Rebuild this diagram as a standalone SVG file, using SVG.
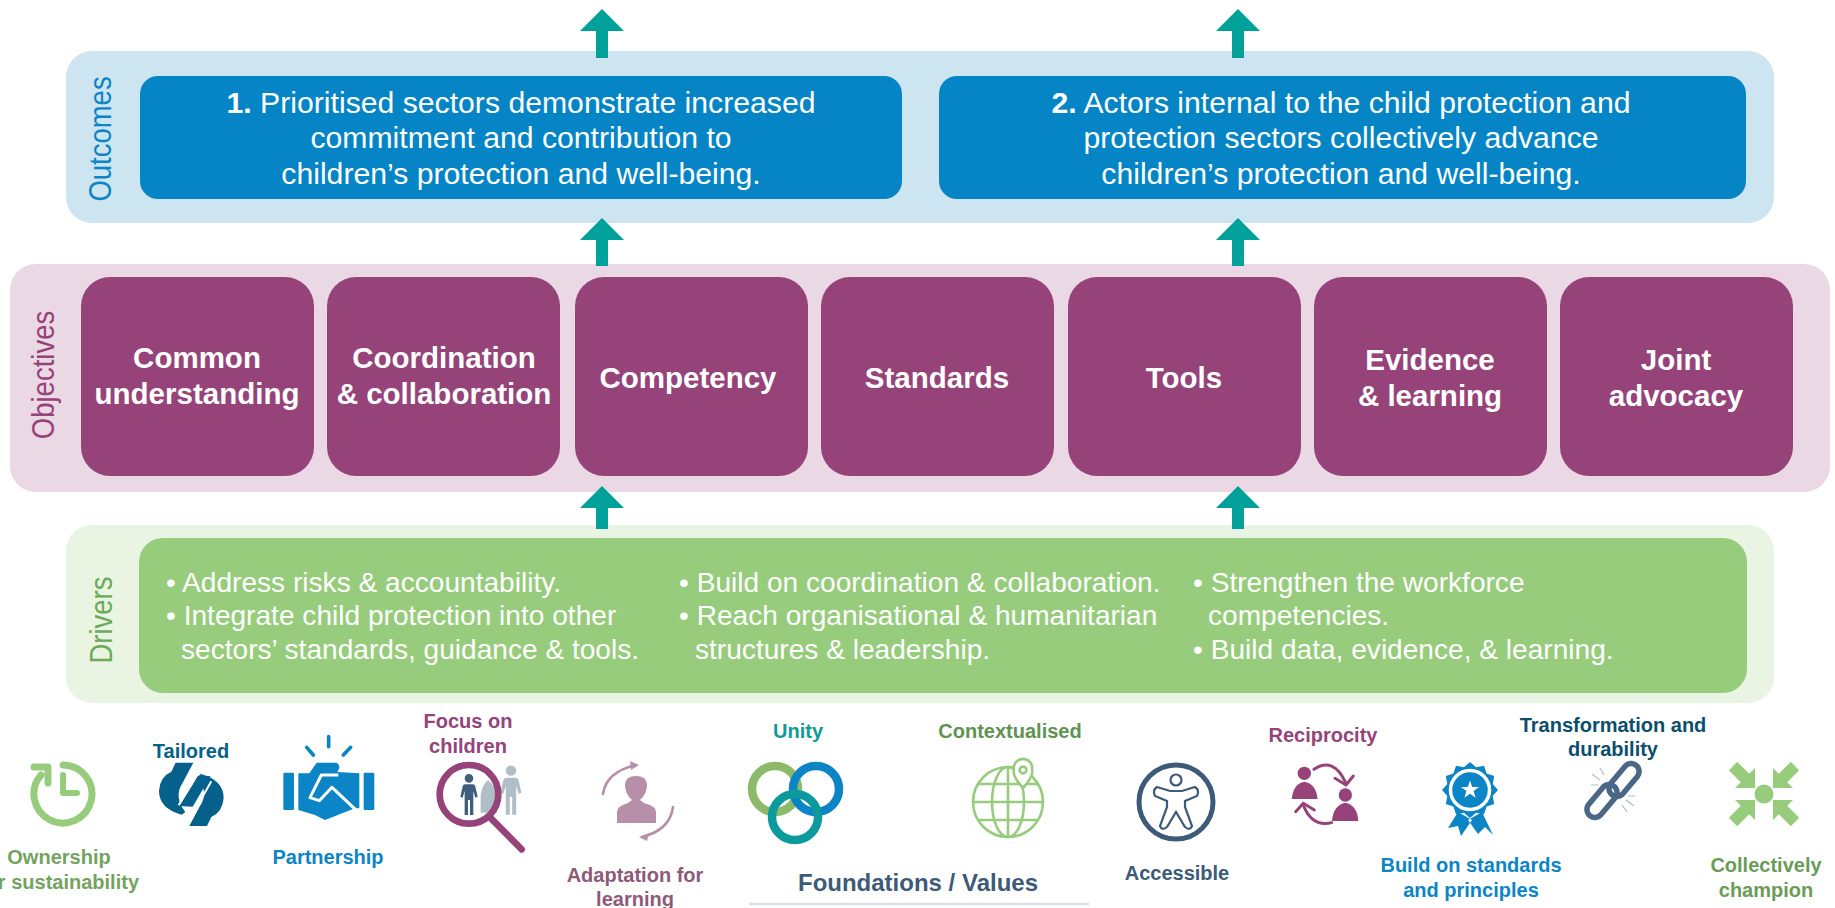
<svg xmlns="http://www.w3.org/2000/svg" xmlns:xlink="http://www.w3.org/1999/xlink" width="1835" height="908" viewBox="0 0 1835 908">
<style>
text{font-family:"Liberation Sans",Arial,sans-serif}
.band-label{font-size:27.5px;text-anchor:middle}
.out{font-size:30.2px;fill:#fff;text-anchor:middle}
.obj{font-size:29.5px;font-weight:700;fill:#fff;text-anchor:middle}
.drv{font-size:28.1px;fill:#fff}
.lab{font-size:20px;font-weight:700;text-anchor:middle}
.o-box{fill:#96437a}
.flow{stroke:#00a19a;stroke-width:12;fill:none;marker-end:url(#head)}
</style>
<defs>
<marker id="head" markerUnits="userSpaceOnUse" markerWidth="44" markerHeight="23" refX="0" refY="22" orient="0" viewBox="-22 0 44 23"><path d="M0 0L22 22H-22Z" fill="#00a19a"/></marker>
<path id="person" d="M-12 18H12Q18 18 20 28L26 55L19 58L13 38V110H3V65H-3V110H-13V38L-19 58L-26 55L-20 28Q-18 18-12 18ZM13 0A13 13 0 1 1-13 0A13 13 0 1 1 13 0Z"/>
<polygon id="inward" points="-26.8,-32.2 -14.8,-20.2 -9,-26 -9,-6 -29,-6 -23.2,-11.8 -35.2,-23.8" fill="#96cc7c"/>
</defs>
<rect width="1835" height="908" fill="#fff"/>

<g id="outcomes">
<rect x="66" y="51" width="1708" height="172" rx="26" fill="#cde5f1"/>
<text class="band-label" fill="#0b85c5" transform="translate(111 139) rotate(-90) scale(1 1.14)">Outcomes</text>
</g>
<g id="outcome-1">
<rect x="140" y="76" width="762" height="123" rx="18" fill="#0585c6"/>
<text class="out" x="521" y="113"><tspan font-weight="700">1.</tspan> Prioritised sectors demonstrate increased</text>
<text class="out" x="521" y="148">commitment and contribution to</text>
<text class="out" x="521" y="184">children’s protection and well-being.</text>
</g>
<g id="outcome-2">
<rect x="939" y="76" width="807" height="123" rx="18" fill="#0585c6"/>
<text class="out" x="1341" y="113"><tspan font-weight="700">2.</tspan> Actors internal to the child protection and</text>
<text class="out" x="1341" y="148">protection sectors collectively advance</text>
<text class="out" x="1341" y="184">children’s protection and well-being.</text>
</g>

<g id="objectives">
<rect x="10" y="264" width="1820" height="228" rx="26" fill="#ead8e5"/>
<text class="band-label" fill="#96437a" transform="translate(54 375) rotate(-90) scale(1 1.14)">Objectives</text>
</g>
<g id="obj-common"><rect class="o-box" x="81" y="277" width="233" height="199" rx="29"/><text class="obj" x="197" y="368">Common</text><text class="obj" x="197" y="404">understanding</text></g>
<g id="obj-coordination"><rect class="o-box" x="327" y="277" width="233" height="199" rx="29"/><text class="obj" x="444" y="368">Coordination</text><text class="obj" x="444" y="404">&amp; collaboration</text></g>
<g id="obj-competency"><rect class="o-box" x="575" y="277" width="233" height="199" rx="29"/><text class="obj" x="688" y="388">Competency</text></g>
<g id="obj-standards"><rect class="o-box" x="821" y="277" width="233" height="199" rx="29"/><text class="obj" x="937" y="388">Standards</text></g>
<g id="obj-tools"><rect class="o-box" x="1068" y="277" width="233" height="199" rx="29"/><text class="obj" x="1184" y="388">Tools</text></g>
<g id="obj-evidence"><rect class="o-box" x="1314" y="277" width="233" height="199" rx="29"/><text class="obj" x="1430" y="370">Evidence</text><text class="obj" x="1430" y="406">&amp; learning</text></g>
<g id="obj-advocacy"><rect class="o-box" x="1560" y="277" width="233" height="199" rx="29"/><text class="obj" x="1676" y="370">Joint</text><text class="obj" x="1676" y="406">advocacy</text></g>

<g id="drivers">
<rect x="66" y="525" width="1708" height="178" rx="26" fill="#e9f4e3"/>
<text class="band-label" fill="#6cab58" transform="translate(112 620) rotate(-90) scale(1 1.14)">Drivers</text>
<rect x="139" y="538" width="1608" height="155" rx="24" fill="#96cc7c"/>
<text class="drv" x="166" y="592">• Address risks &amp; accountability.</text>
<text class="drv" x="166" y="625">• Integrate child protection into other</text>
<text class="drv" x="181" y="659">sectors’ standards, guidance &amp; tools.</text>
<text class="drv" x="679" y="592">• Build on coordination &amp; collaboration.</text>
<text class="drv" x="679" y="625">• Reach organisational &amp; humanitarian</text>
<text class="drv" x="695" y="659">structures &amp; leadership.</text>
<text class="drv" x="1193" y="592">• Strengthen the workforce</text>
<text class="drv" x="1208" y="625">competencies.</text>
<text class="drv" x="1193" y="659">• Build data, evidence, &amp; learning.</text>
</g>

<g id="connectors">
<line class="flow" x1="602" y1="58" x2="602" y2="31"/>
<line class="flow" x1="1238" y1="58" x2="1238" y2="31"/>
<line class="flow" x1="602" y1="266" x2="602" y2="240"/>
<line class="flow" x1="1238" y1="266" x2="1238" y2="240"/>
<line class="flow" x1="602" y1="529" x2="602" y2="508"/>
<line class="flow" x1="1238" y1="529" x2="1238" y2="508"/>
</g>

<g id="val-ownership">
<g fill="none" stroke="#96cc7c" stroke-width="7" stroke-linecap="round" stroke-linejoin="round">
<path d="M63 765A29 29 0 1 1 41 775"/><path d="M34 767H48V783"/><path d="M63 775V793H77" stroke-width="6"/>
</g>
<text class="lab" fill="#74a35f" x="59" y="864">Ownership</text><text class="lab" fill="#74a35f" x="59" y="889">for sustainability</text>
</g>

<g id="val-tailored">
<text class="lab" fill="#05608c" x="191" y="758">Tailored</text>
<g transform="translate(0 740) scale(.3333)" fill="#05608c">
<path d="M527 68L580 68L548 128Q520 170 556 216L545 224Q477 205 477 152Q480 110 514 95Z"/>
<path transform="rotate(180 574 163)" d="M527 68L580 68L548 128Q520 170 556 216L545 224Q477 205 477 152Q480 110 514 95Z"/>
<path d="M538 198L592 110L632 108L578 200Z"/>
<path d="M536 196L584 118M634 124L590 202" stroke="#fff" stroke-width="6" fill="none"/>
</g>
</g>

<g id="val-partnership">
<g transform="translate(280 730) scale(.3333)" fill="#0b85c5">
<rect x="10" y="128" width="32" height="112" rx="4"/><rect x="251" y="128" width="32" height="112" rx="4"/>
<path d="M146 20V50M80 52L100 75M212 52L190 75" stroke="#0b85c5" stroke-width="11" stroke-linecap="round" fill="none"/>
<path d="M55 130H88L110 98H170Q185 108 172 126L238 130V235H225L135 270L105 255L55 240Z"/>
<path d="M175 135H124L90 203L118 212L156 172L226 238" fill="none" stroke="#fff" stroke-width="9" stroke-linejoin="round"/>
</g>
<text class="lab" fill="#0b85c5" x="328" y="864">Partnership</text>
</g>

<g id="val-focus">
<text class="lab" fill="#96437a" x="468" y="728">Focus on</text><text class="lab" fill="#96437a" x="468" y="753">children</text>
<g transform="translate(280 730) scale(.3333)">
<path d="M602 248V195Q606 165 624 150Q642 165 650 190V248Z" fill="#b0bec7"/>
<use href="#person" xlink:href="#person" fill="#b0bec7" transform="translate(693 122) scale(1.2)"/>
<use href="#person" xlink:href="#person" fill="#3f5e7e" transform="translate(567 145)"/>
<circle cx="567" cy="193" r="88" fill="none" stroke="#96437a" stroke-width="20"/>
<path d="M630 262L725 358" stroke="#96437a" stroke-width="20" stroke-linecap="round"/>
</g>
</g>

<g id="val-adaptation">
<path d="M617 823V812Q617 806 628 803L632 800Q625 794 625 785Q625 776 636 776Q647 776 647 785Q647 794 640 800L644 803Q656 806 656 812V823Z" fill="#b78fa9"/>
<g fill="none" stroke="#b78fa9" stroke-width="2.6" stroke-linecap="round"><path d="M603 794Q606 772 636 765"/><path d="M673 807Q670 830 642 837"/></g>
<path d="M639 765L630 761L631 770ZM639 837L649 833L647 841Z" fill="#b78fa9"/>
<text class="lab" fill="#8e5a78" x="635" y="882">Adaptation for</text><text class="lab" fill="#8e5a78" x="635" y="906">learning</text>
</g>

<g id="val-unity">
<text class="lab" fill="#0f9a97" x="798" y="738">Unity</text>
<g fill="none" stroke-width="8.5">
<circle cx="775" cy="789" r="23" stroke="#8cba6a"/><circle cx="816" cy="789" r="23" stroke="#0b85c5"/><circle cx="795" cy="817" r="23" stroke="#0d9a9c"/>
</g>
</g>

<g id="val-contextualised">
<text class="lab" fill="#5f9350" x="1010" y="738">Contextualised</text>
<g fill="none" stroke="#96cc7c" stroke-width="2.6">
<circle cx="1008" cy="802" r="35"/><ellipse cx="1008" cy="802" rx="16" ry="35"/>
<path d="M1008 767V837M973 802H1043M978 784H1038M978 820H1038"/>
<path d="M1023 788Q1012 776 1014 770A9.2 9.2 0 1 1 1032 770Q1034 776 1023 788Z" fill="#fff"/><circle cx="1023" cy="770" r="3.4"/>
</g>
</g>

<g id="val-accessible">
<circle cx="1176" cy="802" r="37" fill="none" stroke="#3d5a78" stroke-width="5"/>
<g fill="none" stroke="#3d5a78" stroke-width="2.2"><circle cx="1176" cy="780" r="5.5"/>
<path d="M1157 787L1170 791H1182L1195 787Q1200 790 1197 796L1185 801V807L1192 826Q1190 831 1185 827L1176 812L1167 827Q1162 831 1160 826L1167 807V801L1155 796Q1152 790 1157 787Z"/></g>
<text class="lab" fill="#3d5a78" x="1177" y="880">Accessible</text>
</g>

<g id="val-reciprocity">
<text class="lab" fill="#96437a" x="1323" y="742">Reciprocity</text>
<g transform="translate(1270 750) scale(.3333)" fill="#96437a">
<circle cx="103" cy="70" r="20"/><path d="M65 147Q70 100 103 95Q138 100 143 147Z"/>
<circle cx="226" cy="135" r="20"/><path d="M186 213Q190 165 226 158Q262 165 265 213Z"/>
<g fill="none" stroke="#96437a" stroke-width="9" stroke-linecap="round" stroke-linejoin="round"><path d="M132 58Q190 20 226 96"/><path d="M195 85L228 105L250 78"/><path d="M185 218Q125 232 100 165"/><path d="M77 185L100 160L133 180"/></g>
</g>
</g>

<g id="val-standards">
<g transform="translate(1470 790)" fill="#0b85c5">
<path d="M-12 22L-22 38L-12 36L-9 46L2 30ZM12 22L23 45L15 37L8 44L-2 30Z"/>
<polygon points="28,0 22.7,6.1 24.2,14 16.6,16.6 14,24.2 6.1,22.7 0,28 -6.1,22.7 -14,24.2 -16.6,16.6 -24.2,14 -22.7,6.1 -28,0 -22.7,-6.1 -24.2,-14 -16.6,-16.6 -14,-24.2 -6.1,-22.7 0,-28 6.1,-22.7 14,-24.2 16.6,-16.6 24.2,-14 22.7,-6.1"/>
<circle r="19.5" fill="none" stroke="#fff" stroke-width="3.5"/>
<polygon fill="#fff" points="0,-9.5 2.2,-3 9,-3 3.6,1.1 5.6,7.7 0,3.8 -5.6,7.7 -3.6,1.1 -9,-3 -2.2,-3"/>
</g>
<text class="lab" fill="#0b85c5" x="1471" y="872">Build on standards</text><text class="lab" fill="#0b85c5" x="1471" y="897">and principles</text>
</g>

<g id="val-transformation">
<text class="lab" fill="#0b4f6c" x="1613" y="732">Transformation and</text><text class="lab" fill="#0b4f6c" x="1613" y="756">durability</text>
<g fill="none" stroke="#4a6787" stroke-width="5.5">
<rect x="-8" y="-19" width="16" height="38" rx="8" transform="translate(1624 780) rotate(40)"/>
<rect x="-8" y="-19" width="16" height="38" rx="8" transform="translate(1602 801) rotate(40)"/>
</g>
<path d="M1600 780L1592 774M1604 775L1600 768M1598 785L1591 785M1626 800L1634 806M1622 805L1627 812M1628 796L1635 796" stroke="#b0bec7" stroke-width="1.2"/>
</g>

<g id="val-collectively">
<circle cx="1764" cy="794" r="9.5" fill="#96cc7c"/>
<use href="#inward" xlink:href="#inward" transform="translate(1764 794)"/>
<use href="#inward" xlink:href="#inward" transform="translate(1764 794) scale(-1 1)"/>
<use href="#inward" xlink:href="#inward" transform="translate(1764 794) scale(1 -1)"/>
<use href="#inward" xlink:href="#inward" transform="translate(1764 794) scale(-1 -1)"/>
<text class="lab" fill="#6a9c58" x="1766" y="872">Collectively</text><text class="lab" fill="#6a9c58" x="1766" y="897">champion</text>
</g>

<g id="foundations">
<text fill="#3d5a78" font-size="24" font-weight="700" text-anchor="middle" x="918" y="891">Foundations / Values</text>
<line x1="749" y1="904" x2="1089" y2="904" stroke="#d9e0ea" stroke-width="2.5"/>
</g>
</svg>
